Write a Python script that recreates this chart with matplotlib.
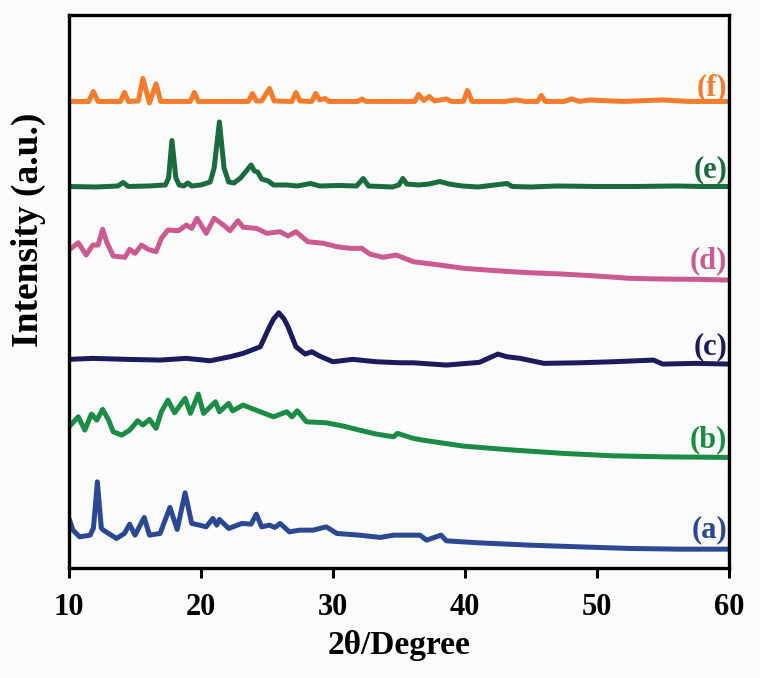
import matplotlib
matplotlib.use("Agg")
import matplotlib.pyplot as plt

plt.rcParams['font.family'] = ['Liberation Serif', 'DejaVu Serif']
plt.rcParams['font.weight'] = 'bold'

# stacked XRD patterns, intensity in arbitrary units (offsets included)
x_a = [10.0, 10.3, 10.8, 11.6, 11.85, 11.95, 12.15, 12.35, 12.45, 12.6, 13.6, 14.2, 14.6, 15.0, 15.7, 16.1,
       16.9, 17.65, 18.2, 18.8, 19.3, 19.9, 20.4, 20.9, 21.2, 21.4, 22.1, 23.1, 23.8, 24.2, 24.6, 25.2, 25.6,
       26.0, 26.7, 27.5, 28.5, 29.5, 30.3, 32.0, 33.6, 34.6, 36.6, 37.1, 38.2, 38.6, 41.1, 44.9, 48.7, 52.5,
       56.3, 60.0]
y_a = [49.7, 38, 31.3, 33, 40, 55, 86.3, 55, 40, 38, 29.7, 34.7, 44, 33, 50.7, 33,
       34.7, 60.7, 38.7, 75.3, 44.7, 43, 41.3, 49.7, 43, 48.7, 39.7, 44.7, 44, 54, 41.3, 43, 40.7,
       44.7, 36.3, 38, 38, 41.3, 34.7, 33, 30.7, 33, 33, 28, 33, 27.3, 25.3, 23, 21.3, 19.7,
       19, 19]

x_b = [10.0, 10.7, 11.2, 11.7, 12.1, 12.55, 13.0, 13.35, 14.0, 14.6, 15.2, 15.6, 16.1, 16.6, 17.0, 17.5,
       18.0, 18.8, 19.2, 19.8, 20.2, 21.1, 21.4, 22.1, 22.4, 23.2, 24.5, 25.5, 26.5, 26.9, 27.3, 28.0,
       29.5, 30.8, 32.0, 33.3, 34.6, 34.9, 36.1, 36.8, 39.9, 43.7, 47.5, 51.2, 55.0, 60.0]
y_b = [141.3, 151.3, 138, 154, 148, 158.7, 148, 136.3, 133, 138, 147.3, 143, 148.7, 139.7, 156.3, 168,
       155.3, 169.7, 154.7, 174, 154.7, 166.3, 156.3, 164.7, 157.3, 163, 156.3, 151.3, 156.3, 151.3, 157.3, 146.3,
       145.3, 142, 138, 134, 131.3, 134.7, 129.7, 128, 122, 118, 114.7, 112.3, 111.3, 110.7]

x_c = [10.0, 11.8, 14.4, 16.9, 18.9, 20.7, 22.2, 23.2, 24.5, 25.2, 25.5, 25.9, 26.3, 26.6, 27.2, 27.9,
       28.4, 29.0, 30.0, 31.5, 33.3, 35.1, 36.1, 38.6, 41.1, 42.5, 43.2, 44.2, 46.0, 48.7, 51.2, 54.3,
       55.0, 57.5, 60.0]
y_c = [208.7, 209.7, 208.7, 208, 209.7, 207.3, 211.3, 214.7, 221.3, 241.3, 249, 255.3, 249, 241.3, 221.3, 214,
       216.3, 212, 206.3, 208.7, 206.3, 205.3, 205.3, 203, 205.7, 214, 211.3, 209.7, 204.7, 205.3, 206.3, 208,
       204, 204.7, 204]

x_d = [10.0, 10.7, 11.3, 11.8, 12.2, 12.55, 12.85, 13.35, 14.24, 14.6, 15.0, 15.5, 16.0, 16.6, 17.0, 17.5,
       18.3, 18.9, 19.3, 19.7, 20.4, 21.0, 21.7, 22.2, 22.8, 23.2, 24.2, 25.0, 26.0, 26.6, 27.2, 28.1,
       29.3, 30.3, 31.3, 32.2, 32.8, 33.8, 34.8, 36.1, 38.1, 39.9, 42.4, 44.9, 47.4, 50.0, 52.5, 55.0,
       57.6, 60.0]
y_d = [318, 325.3, 313, 323, 323, 338.7, 326.3, 312, 310.7, 318.7, 314.7, 323, 318.7, 316.3, 329.7, 338,
       337.3, 343, 339.7, 349.7, 334.7, 349.7, 343, 337.3, 347.3, 340.7, 339.7, 334.7, 336.3, 332, 336.3, 326.3,
       324.7, 321.3, 319.7, 319.7, 314, 310.7, 313, 306.3, 303, 299.7, 297.3, 295.3, 294, 292, 289.7, 289,
       288.7, 288]

x_e = [10.0, 12.0, 13.7, 14.1, 14.5, 16.0, 17.3, 17.55, 17.8, 18.1, 18.35, 18.7, 19.0, 19.3, 20.0, 20.7,
       21.0, 21.4, 21.75, 22.1, 22.5, 23.0, 23.5, 23.8, 24.05, 24.3, 24.6, 25.1, 25.5, 26.5, 27.3, 28.3,
       29.0, 30.5, 31.8, 32.3, 32.7, 34.5, 35.0, 35.3, 35.6, 36.5, 37.3, 38.1, 38.8, 39.8, 41.0, 43.2,
       43.6, 45.0, 47.0, 50.0, 53.0, 56.0, 58.0, 60.0]
y_e = [381.5, 381, 382, 385.5, 381.5, 382, 383, 390, 427.5, 390, 383, 382, 385, 382, 383, 386,
       400, 446, 400, 386, 385, 390, 398, 403, 397, 396, 389, 387, 383, 383, 382, 384.5,
       382, 382.5, 382, 389.5, 382, 381, 383, 389.5, 384, 383, 384, 386.5, 384, 382, 381, 384.5,
       381.5, 381, 382, 381.5, 381.5, 382, 381.5, 381.5]

x_f = [10.0, 11.5, 11.84, 12.2, 13.9, 14.2, 14.5, 15.25, 15.6, 16.1, 16.6, 16.95, 19.2, 19.5, 19.8, 23.6,
       23.9, 24.2, 24.6, 25.2, 25.55, 26.9, 27.2, 27.5, 28.4, 28.7, 29.0, 29.4, 29.7, 31.9, 32.2, 32.5,
       36.2, 36.5, 36.9, 37.3, 37.7, 38.6, 39.0, 39.9, 40.2, 40.55, 43.0, 43.9, 44.6, 45.5, 45.8, 46.1,
       47.5, 48.1, 48.7, 49.4, 52.0, 55.0, 57.0, 60.0]
y_f = [466.5, 466.5, 476.5, 466.5, 466.5, 475.5, 466.5, 467, 489.5, 465, 484, 466.5, 466.5, 475.5, 466.5, 466.5,
       474.5, 467, 467, 479.5, 467, 466.5, 475.5, 467, 466.5, 474.5, 468, 469.5, 466.5, 466.5, 469, 466.5,
       466.5, 473.5, 467.5, 471.5, 467, 469, 466.5, 466.5, 477.5, 466.5, 466.5, 468, 466.5, 466.5, 472.5, 466.5,
       466.5, 469, 466.5, 468, 466.5, 468, 466.5, 466.5]

labels = ['(a)', '(b)', '(c)', '(d)', '(e)', '(f)']
label_y = [38, 128, 221, 307, 398, 480]
colors = ['#2b4992', '#1a8c46', '#1c1b5e', '#cb5a93', '#1a6b3d', '#f47c2c']

xs = [x_a, x_b, x_c, x_d, x_e, x_f]
ys = [y_a, y_b, y_c, y_d, y_e, y_f]

fig = plt.figure(figsize=(7.6, 6.78), dpi=100, facecolor='#fcfbfc')
ax = fig.add_axes([0.0908, 0.162, 0.868, 0.816])
ax.set_facecolor('#fcfbfc')

for x, y, c, lab, ly in zip(xs, ys, colors, labels, label_y):
    ax.plot(x, y, color=c, lw=3.6, solid_joinstyle='round', solid_capstyle='round')
    ax.text(59.9, ly, lab, color=c, fontsize=22, fontweight='bold', ha='right', va='center')

ax.set_xlim(10, 60)
ax.set_ylim(0, 553)
ax.set_xticks([10, 20, 30, 40, 50, 60])
ax.set_yticks([])
ax.tick_params(axis='x', direction='out', length=7, width=2.2, labelsize=22, pad=11)
for s in ax.spines.values():
    s.set_linewidth(2.4)
for t in ax.get_xticklabels():
    t.set_fontweight('bold')

ax.set_xlabel('2θ/Degree', fontsize=24, fontweight='bold', labelpad=6)
fig.text(28 / 760, 1 - 230 / 678, 'Intensity (a.u.)', rotation=90, fontsize=27, fontweight='bold',
         ha='center', va='center')

fig.savefig('out.png', dpi=100, facecolor=fig.get_facecolor())
